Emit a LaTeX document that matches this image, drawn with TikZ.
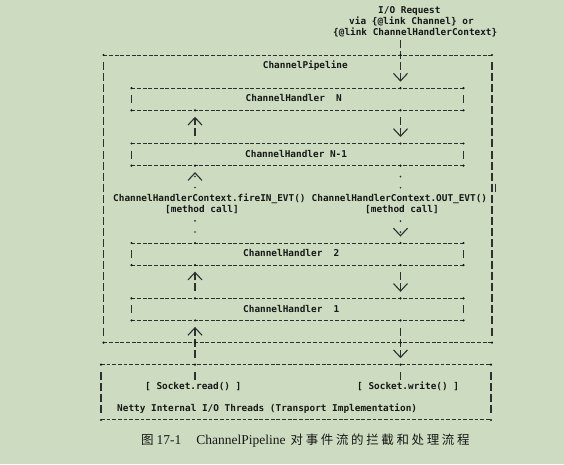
\documentclass[tikz,border=0pt]{standalone}
\usepackage{fontspec}
\setmainfont{Liberation Serif}
\newfontfamily\asciifont{DejaVu Sans Mono}
\newfontfamily\cjkfont[LetterSpace=21]{Noto Sans CJK SC}
\usetikzlibrary{arrows.meta}

\definecolor{paper}{RGB}{205,220,192}
\definecolor{ink}{RGB}{22,24,22}
\definecolor{rule}{RGB}{45,48,45}

\begin{document}
\begin{tikzpicture}[
		x=1pt, y=-11.06pt,
		ascii/.style={font=\asciifont\bfseries\fontsize{9.4}{11}\selectfont, text=ink, inner sep=0pt, minimum height=11.06pt, text height=7.2pt, text depth=1.8pt, anchor=west},
		frame/.style={inner sep=0pt, outer sep=0pt},
		handler/.style={frame, minimum width=332pt, minimum height=22.12pt},
		hline/.style={draw=rule, line width=1pt, dash pattern=on 3.8pt off 1.86pt},
		vline/.style={draw=rule, line width=1.1pt, dash pattern=on 8pt off 3.06pt, shorten <=7.06pt, shorten >=7.06pt},
		bar/.style={draw=rule, line width=1.1pt, dash pattern=on 8pt off 3.06pt},
		dots/.style={draw=rule, line width=1.9pt, line cap=round, dash pattern=on 0pt off 11.06pt},
		offbox/.style={shorten <=7.06pt},
		offtext/.style={shorten <=1.53pt},
		tobox/.style={-{Straight Barb[length=7.5pt, width=14pt, line width=1.1pt]}, shorten >=6.5pt}
		]
		
		\useasboundingbox[fill=paper] (0,-4.973) rectangle (564,36.98);
		
		% =========================================================
		% 1. Columns of the two event paths
		% =========================================================
		\coordinate (colL) at (195,0);
		\coordinate (colR) at (400.5,0);
		
		% =========================================================
		% 2. The request
		% =========================================================
		\node[ascii] (req) at (378,-4) {I/O Request};
		\node[ascii] (reqvia) at (349,-3) {via \{@link Channel\} or};
		\node[ascii] (reqctx) at (333,-2) {\{@link ChannelHandlerContext\}};
		
		% =========================================================
		% 3. Pipeline, handlers and I/O threads
		% =========================================================
		\node[frame, minimum width=388.5pt, minimum height=287.56pt] (pipe) at (297.75,13) {};
		\node[handler] (hN) at (297.5,4) {};
		\node[handler] (hN1) at (297.5,9) {};
		\node[handler] (h2) at (297.5,18) {};
		\node[handler] (h1) at (297.5,23) {};
		\node[frame, minimum width=390pt, minimum height=55.3pt] (io) at (296,30.5) {};
		
		\foreach \b in {pipe,hN,hN1,h2,h1,io}{
			\draw[hline] (\b.north west) -- (\b.north east) (\b.south west) -- (\b.south east);
			\draw[vline] (\b.north west) -- (\b.south west);
			\draw[vline] (\b.north east) -- (\b.south east);
			\foreach \c in {north west,north east,south west,south east}
			\fill[ink] (\b.\c) circle (1.2pt);
		}
		\coordinate (stray) at (495.5,12);
		\draw[rule, line width=1.1pt] ([yshift=4pt]stray) -- ([yshift=-4pt]stray);
		
		\node[ascii] (pipeLbl) at (262.7,1) {ChannelPipeline};
		\node[ascii] (hNLbl) at (245.5,4) {ChannelHandler~~N};
		\node[ascii] (hN1Lbl) at (245,9) {ChannelHandler N-1};
		\node[ascii] (h2Lbl) at (243,18) {ChannelHandler~~2};
		\node[ascii] (h1Lbl) at (243,23) {ChannelHandler~~1};
		
		\node[ascii] (fireIn) at (113,13) {ChannelHandlerContext.fireIN\_EVT()};
		\node[ascii] (outEvt) at (311.5,13) {ChannelHandlerContext.OUT\_EVT()};
		\node[ascii] (mcallL) at (165,14) {[method call]};
		\node[ascii] (mcallR) at (365,14) {[method call]};
		
		\node[ascii] (sockRead) at (145,30) {[ Socket.read() ]};
		\node[ascii] (sockWrite) at (357,30) {[ Socket.write() ]};
		\node[ascii] (netty) at (117,32) {Netty Internal I/O Threads (Transport Implementation)};
		
		% =========================================================
		% 4. Outbound path (right, downwards)
		% =========================================================
		\draw[bar, offtext, tobox] (reqctx.south -| colR) -- (hN.north -| colR);
		\draw[bar, offbox, tobox] (hN.south -| colR) -- (hN1.north -| colR);
		\draw[dots, shorten <=11.06pt] (hN1.south -| colR) -- (outEvt.north -| colR);
		\draw[dots, shorten <=5.53pt, tobox] (mcallR.south -| colR) -- (h2.north -| colR);
		\draw[bar, offbox, tobox] (h2.south -| colR) -- (h1.north -| colR);
		\draw[bar, offbox, tobox] (h1.south -| colR) -- (io.north -| colR);
		\draw[bar, offbox] (io.north -| colR) -- (sockWrite.north -| colR);
		
		% =========================================================
		% 5. Inbound path (left, upwards)
		% =========================================================
		\draw[bar, offtext, shorten >=7.06pt] (sockRead.north -| colL) -- (io.north -| colL);
		\draw[bar, offbox, tobox] (io.north -| colL) -- (h1.south -| colL);
		\draw[bar, offbox, tobox] (h1.north -| colL) -- (h2.south -| colL);
		\draw[dots, shorten <=11.06pt] (h2.north -| colL) -- (mcallL.south -| colL);
		\draw[dots, shorten <=5.53pt, tobox] (fireIn.north -| colL) -- (hN1.south -| colL);
		\draw[bar, offbox, tobox] (hN1.north -| colL) -- (hN.south -| colL);
		
		% junctions
		\foreach \p in {pipe.north,hN.north,hN.south,hN1.north,hN1.south,h2.north,h2.south,h1.north,h1.south,pipe.south,io.north}
		\fill[ink] (\p -| colR) circle (1.2pt);
		\foreach \p in {hN.south,hN1.north,hN1.south,h2.north,h2.south,h1.north,h1.south,pipe.south,io.north}
		\fill[ink] (\p -| colL) circle (1.2pt);
		
		% =========================================================
		% 6. Caption
		% =========================================================
		\node[inner sep=0pt, anchor=west, text=ink] (cap) at (141,34.9) {\fontsize{13.5}{16}\selectfont{\cjkfont\fontsize{12.5}{16}\selectfont 图}\hspace{3pt}17-1\hspace{15pt}ChannelPipeline\hspace{5pt}{\cjkfont\fontsize{12.5}{16}\selectfont 对事件流的拦截和处理流程}};
	\end{tikzpicture}
\end{document}
